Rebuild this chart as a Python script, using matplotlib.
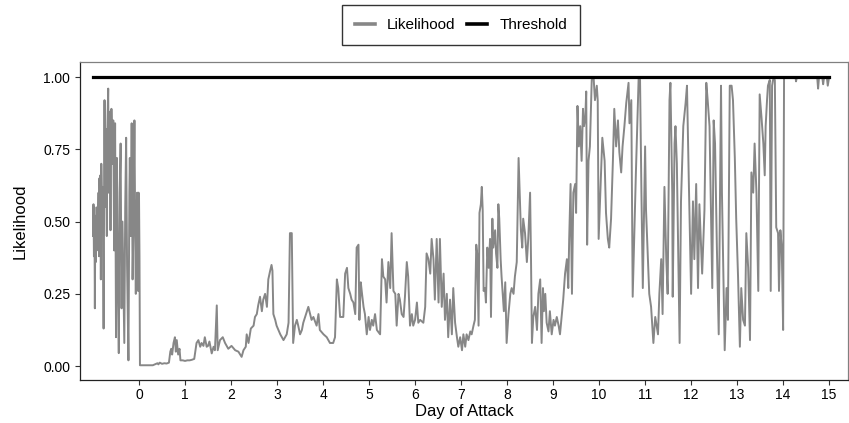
import matplotlib
matplotlib.use("Agg")
import matplotlib.pyplot as plt
from matplotlib.lines import Line2D

plt.rcParams['font.family'] = ['Liberation Sans', 'DejaVu Sans']

# ---- data ----
day = [
    -1.00, -0.99, -0.98, -0.97, -0.96, -0.95, -0.94, -0.93, -0.92, -0.91, -0.90, -0.88, -0.87, -0.86,
    -0.85, -0.84, -0.83, -0.82, -0.80, -0.79, -0.77, -0.75, -0.74, -0.72, -0.70, -0.69, -0.67, -0.66,
    -0.64, -0.62, -0.60, -0.58, -0.56, -0.54, -0.52, -0.50, -0.48, -0.46, -0.44, -0.42, -0.40, -0.38,
    -0.36, -0.34, -0.32, -0.30, -0.28, -0.26, -0.23, -0.21, -0.20, -0.18, -0.16, -0.14, -0.12, -0.10,
    -0.08, -0.07, -0.05, -0.04, -0.02, -0.01, 0.00, 0.01, 0.02,
    0.30, 0.37, 0.40, 0.42, 0.45, 0.50, 0.55, 0.60, 0.65, 0.68, 0.70, 0.72, 0.75, 0.78, 0.80, 0.82,
    0.85, 0.88, 0.90, 0.95, 1.00, 1.05, 1.10, 1.15, 1.20,
    1.25, 1.29, 1.33, 1.36, 1.40, 1.43, 1.47, 1.50, 1.53, 1.58, 1.62, 1.65, 1.69, 1.71, 1.76, 1.82,
    1.87, 1.94, 2.01, 2.09, 2.16, 2.23, 2.27, 2.32, 2.34, 2.38, 2.43, 2.49, 2.52, 2.56, 2.59, 2.63,
    2.67, 2.70, 2.74, 2.78, 2.81, 2.85, 2.88, 2.90, 2.92,
    2.96, 2.99, 3.03, 3.07, 3.14, 3.21, 3.25, 3.28, 3.32, 3.35, 3.39, 3.43, 3.46, 3.50, 3.54, 3.57,
    3.65, 3.68, 3.72, 3.75, 3.79, 3.86, 3.90, 3.93, 4.01, 4.08, 4.15, 4.22, 4.26, 4.30, 4.33, 4.37,
    4.44, 4.48, 4.52, 4.55, 4.59, 4.62, 4.66, 4.70, 4.73, 4.77, 4.79, 4.82, 4.84, 4.88, 4.91, 4.95,
    4.99, 5.02, 5.06, 5.09, 5.13, 5.17, 5.24, 5.28, 5.31, 5.35, 5.38, 5.42, 5.46, 5.49, 5.53, 5.57,
    5.60, 5.64, 5.67, 5.71, 5.75, 5.78, 5.82, 5.85, 5.89, 5.93, 5.96, 6.00, 6.04, 6.07, 6.11, 6.18,
    6.22, 6.25, 6.29, 6.33, 6.36, 6.40, 6.43, 6.47, 6.51, 6.54, 6.58, 6.62, 6.65, 6.69, 6.72, 6.76,
    6.80, 6.83, 6.87, 6.91, 6.94, 6.98, 7.02, 7.05, 7.09,
    7.12, 7.16, 7.20, 7.23, 7.27, 7.30, 7.33, 7.35, 7.38, 7.40, 7.43, 7.45, 7.47, 7.49, 7.52, 7.54,
    7.57, 7.60, 7.63, 7.65, 7.68, 7.70, 7.74, 7.76, 7.79, 7.81, 7.83, 7.86, 7.88, 7.91, 7.93, 7.96,
    7.99, 8.03, 8.07, 8.10, 8.14, 8.17, 8.21, 8.25, 8.27, 8.30, 8.33, 8.35, 8.39, 8.43, 8.46, 8.50,
    8.52, 8.54, 8.57, 8.61, 8.65, 8.68, 8.72, 8.75, 8.78, 8.80, 8.83, 8.86, 8.90, 8.93, 8.97, 9.01,
    9.04, 9.08, 9.12, 9.15, 9.19, 9.22, 9.26, 9.30, 9.33, 9.35, 9.38, 9.41, 9.44, 9.48, 9.50, 9.53,
    9.56, 9.59, 9.62, 9.65, 9.67, 9.70, 9.72, 9.74, 9.77, 9.80, 9.84, 9.88, 9.91, 9.95, 9.97, 9.99,
    10.07, 10.12, 10.15, 10.19, 10.22, 10.26, 10.30, 10.33, 10.37, 10.41, 10.44, 10.48, 10.51, 10.55,
    10.59, 10.64, 10.66, 10.70, 10.73, 10.77, 10.80, 10.86, 10.89, 10.92, 10.95, 11.00, 11.02, 11.06,
    11.09, 11.13, 11.18, 11.22, 11.28, 11.31, 11.35, 11.38, 11.42, 11.46, 11.49, 11.53, 11.55, 11.59,
    11.60, 11.64, 11.66, 11.69, 11.75, 11.78, 11.83, 11.88, 11.91, 11.95, 12.00, 12.04, 12.07, 12.11,
    12.15, 12.18, 12.24, 12.29, 12.33, 12.36, 12.40, 12.46, 12.49, 12.52, 12.56, 12.60, 12.65, 12.67,
    12.73, 12.77, 12.80, 12.84, 12.88, 12.91, 12.95, 12.98, 13.02, 13.06, 13.09, 13.13, 13.17, 13.20,
    13.24, 13.28, 13.31, 13.35, 13.38, 13.42, 13.46, 13.49, 13.53, 13.57, 13.60, 13.62, 13.65, 13.67,
    13.71, 13.73, 13.76, 13.78, 13.82, 13.85, 13.89, 13.91, 13.94, 13.97, 14.00, 14.02,
    14.27, 14.28, 14.30, 14.74, 14.76, 14.78, 14.85, 14.87, 14.89, 14.95, 14.97, 15.00,
]

likelihood = [
    0.45, 0.56, 0.38, 0.55, 0.20, 0.52, 0.36, 0.50, 0.40, 0.55, 0.42, 0.60, 0.38, 0.65,
    0.50, 0.66, 0.30, 0.70, 0.48, 0.62, 0.13, 0.92, 0.55, 0.82, 0.45, 0.80, 0.96, 0.60,
    0.88, 0.47, 0.89, 0.70, 0.85, 0.40, 0.84, 0.10, 0.72, 0.30, 0.045, 0.60, 0.77, 0.20,
    0.50, 0.30, 0.08, 0.55, 0.79, 0.35, 0.02, 0.60, 0.72, 0.45, 0.84, 0.30, 0.50, 0.85,
    0.40, 0.25, 0.55, 0.60, 0.26, 0.60, 0.58, 0.38, 0.003,
    0.003, 0.008, 0.01, 0.006, 0.012, 0.008, 0.01, 0.009, 0.012, 0.05, 0.06, 0.04, 0.08, 0.10, 0.05, 0.09,
    0.04, 0.06, 0.02, 0.02, 0.018, 0.02, 0.02, 0.022, 0.025,
    0.08, 0.09, 0.067, 0.08, 0.07, 0.10, 0.067, 0.07, 0.085, 0.044, 0.067, 0.055, 0.21, 0.055, 0.09, 0.10,
    0.08, 0.06, 0.07, 0.055, 0.05, 0.032, 0.055, 0.067, 0.11, 0.08, 0.13, 0.14, 0.17, 0.18, 0.21, 0.24,
    0.19, 0.23, 0.25, 0.205, 0.30, 0.33, 0.35, 0.33, 0.18,
    0.16, 0.14, 0.125, 0.11, 0.09, 0.11, 0.15, 0.46, 0.46, 0.08, 0.14, 0.16, 0.14, 0.11, 0.125, 0.15,
    0.19, 0.205, 0.18, 0.16, 0.17, 0.14, 0.18, 0.125, 0.11, 0.10, 0.08, 0.08, 0.10, 0.30, 0.27, 0.17,
    0.17, 0.32, 0.34, 0.27, 0.25, 0.23, 0.22, 0.18, 0.41, 0.42, 0.16, 0.29, 0.26, 0.205, 0.18, 0.11,
    0.17, 0.125, 0.16, 0.14, 0.18, 0.125, 0.11, 0.37, 0.31, 0.30, 0.22, 0.36, 0.27, 0.46, 0.26, 0.25,
    0.14, 0.25, 0.23, 0.18, 0.17, 0.24, 0.36, 0.31, 0.14, 0.18, 0.14, 0.16, 0.22, 0.15, 0.16, 0.15,
    0.205, 0.39, 0.37, 0.32, 0.44, 0.37, 0.23, 0.44, 0.22, 0.44, 0.205, 0.32, 0.16, 0.25, 0.10, 0.23,
    0.11, 0.27, 0.15, 0.10, 0.067, 0.10, 0.055, 0.11, 0.067,
    0.11, 0.09, 0.12, 0.11, 0.14, 0.16, 0.42, 0.39, 0.14, 0.53, 0.56, 0.62, 0.54, 0.26, 0.27, 0.22,
    0.41, 0.34, 0.44, 0.17, 0.51, 0.41, 0.47, 0.39, 0.34, 0.56, 0.51, 0.37, 0.31, 0.24, 0.19, 0.29,
    0.08, 0.18, 0.25, 0.27, 0.25, 0.31, 0.36, 0.72, 0.62, 0.47, 0.41, 0.51, 0.46, 0.36, 0.44, 0.60,
    0.37, 0.08, 0.17, 0.205, 0.125, 0.25, 0.30, 0.08, 0.27, 0.19, 0.25, 0.15, 0.12, 0.19, 0.11, 0.16,
    0.14, 0.17, 0.14, 0.11, 0.18, 0.23, 0.32, 0.37, 0.27, 0.44, 0.63, 0.25, 0.60, 0.63, 0.53, 0.90,
    0.76, 0.83, 0.71, 0.89, 0.83, 0.86, 0.95, 0.42, 0.71, 0.76, 0.99, 1.00, 0.92, 0.97, 0.92, 0.44,
    0.79, 0.71, 0.53, 0.44, 0.41, 0.51, 0.71, 0.89, 0.76, 0.85, 0.74, 0.67, 0.76, 0.83,
    0.91, 0.98, 0.84, 0.92, 0.24, 0.48, 0.67, 1.00, 0.99, 0.60, 0.27, 0.76, 0.54, 0.37,
    0.25, 0.205, 0.08, 0.17, 0.11, 0.25, 0.37, 0.18, 0.62, 0.37, 0.25, 0.92, 0.98, 0.60,
    0.24, 0.77, 0.83, 0.70, 0.08, 0.57, 0.83, 0.91, 0.97, 0.64, 0.25, 0.57, 0.37, 0.63,
    0.27, 0.56, 0.32, 0.54, 0.98, 0.92, 0.83, 0.27, 0.85, 0.77, 0.41, 0.11, 0.97, 0.60,
    0.055, 0.27, 0.16, 0.97, 0.97, 0.92, 0.72, 0.51, 0.31, 0.067, 0.27, 0.16, 0.14, 0.46,
    0.34, 0.09, 0.67, 0.60, 0.77, 0.60, 0.26, 0.94, 0.86, 0.77, 0.66, 0.83, 0.92, 0.97,
    0.99, 0.26, 0.97, 0.99, 0.99, 0.48, 0.46, 0.26, 0.47, 0.41, 0.125, 1.00,
    1.00, 0.985, 1.00, 1.00, 0.96, 1.00, 1.00, 0.975, 1.00, 1.00, 0.97, 1.00,
]

threshold_days = [-1.0, 15.0]
threshold_values = [1.0, 1.0]

x_ticks = list(range(0, 16))
y_ticks = [0.00, 0.25, 0.50, 0.75, 1.00]
y_ticklabels = ["0.00", "0.25", "0.50", "0.75", "1.00"]

series_names = ["Likelihood", "Threshold"]
series_colors = ["#878787", "black"]

# ---- figure ----
fig = plt.figure(figsize=(8.49, 4.23), dpi=100)
ax = fig.add_axes([80/849, 1 - 380/423, (848 - 80)/849, (380 - 62)/423])

ax.plot(day, likelihood, color=series_colors[0], lw=1.4)
ax.plot(threshold_days, threshold_values, color=series_colors[1], lw=2.3)

ax.set_xlim(-1.283, 15.41)
ax.set_ylim(-0.048, 1.052)
ax.set_xticks(x_ticks)
ax.set_xticklabels([str(t) for t in x_ticks])
ax.set_yticks(y_ticks)
ax.set_yticklabels(y_ticklabels)

for side in ['left', 'bottom']:
    ax.spines[side].set_color('#222222')
    ax.spines[side].set_linewidth(0.9)
for side in ['top', 'right']:
    ax.spines[side].set_color('#808080')
    ax.spines[side].set_linewidth(0.9)
ax.tick_params(axis='both', direction='out', length=3.5, width=0.8, color='#333333',
               labelsize=10, labelcolor='black')
ax.tick_params(axis='x', pad=2.5)
ax.tick_params(axis='y', pad=3.5)

ax.set_xlabel('Day of Attack', fontsize=12)
ax.set_ylabel('Likelihood', fontsize=12)
ax.xaxis.set_label_coords(0.5, (380 - 411) / 318)
ax.yaxis.set_label_coords((20 - 80) / 768, 0.5)
ax.xaxis.label.set_va('center')
ax.yaxis.label.set_va('center')

handles = [Line2D([], [], color=c, lw=2.6) for c in series_colors]
leg = fig.legend(handles, series_names, loc='center', bbox_to_anchor=(461/849, 1 - 25/423),
                 ncol=2, frameon=True, fontsize=11, handlelength=1.3, columnspacing=0.75,
                 handletextpad=0.8, borderpad=0.85, borderaxespad=0, fancybox=False)
leg.get_frame().set_edgecolor('black')
leg.get_frame().set_linewidth(1.0)

fig.savefig('out.png', dpi=100)
